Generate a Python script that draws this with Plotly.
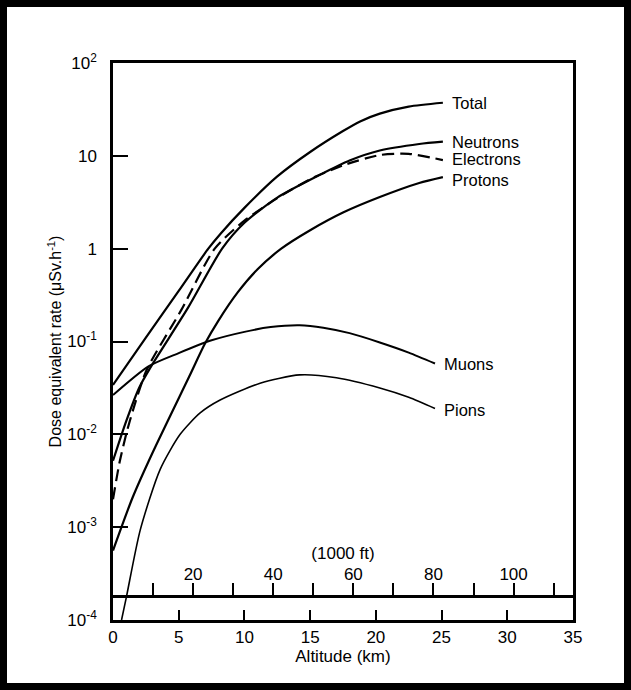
import math
import plotly.graph_objects as go

# ---------------- data ----------------
total_km = [0, 2.5, 5, 7.25, 8.2, 10, 12.5, 15, 17.5, 18.8, 20.3, 22.5, 25.1]
total_val = [0.034, 0.11, 0.35, 1.0, 1.46, 2.75, 6.0, 11.0, 18.5, 23.5, 28.5, 33.9, 37.3]

neutrons_km = [0, 1, 2, 2.9, 5.7, 8.3, 10, 12.5, 15.7, 18, 20.3, 23.3, 25.1]
neutrons_val = [0.0052, 0.0138, 0.032, 0.054, 0.23, 1.0, 1.9, 3.55, 6.2, 8.9, 11.4, 13.4, 14.2]

electrons_km = [0, 0.5, 1, 1.5, 2.55, 5.2, 7.74, 10, 12.5, 15, 17.5, 20.3, 22.5, 25.1]
electrons_val = [0.002, 0.005, 0.01, 0.0178, 0.049, 0.219, 1.0, 2.0, 3.5, 5.6, 7.9, 10.2, 10.5, 9.0]

protons_km = [0, 1.5, 3, 5.8, 7, 8, 9.5, 11, 12.8, 15, 17.5, 20.3, 23.3, 25.1]
protons_val = [0.00056, 0.0021, 0.0063, 0.042, 0.095, 0.166, 0.34, 0.60, 1.0, 1.58, 2.45, 3.6, 5.1, 5.9]

muons_km = [0, 2.7, 5, 7.5, 10, 12, 14.2, 16, 18, 20.3, 22.5, 24.5]
muons_val = [0.0265, 0.054, 0.075, 0.103, 0.127, 0.143, 0.1496, 0.141, 0.123, 0.0977, 0.076, 0.058]

pions_km = [0.65, 1.03, 2.07, 3.59, 5.11, 6.63, 8.15, 11.19, 14.2, 17, 20.3, 22.5, 24.5]
pions_val = [1.0e-4, 1.8e-4, 9.3e-4, 0.0042, 0.0100, 0.0170, 0.0234, 0.0355, 0.0437, 0.0407, 0.0316, 0.0251, 0.019]

km_ticks = [0, 5, 10, 15, 20, 25, 30, 35]
ft_ticks = [10, 20, 30, 40, 50, 60, 70, 80, 90, 100, 110]
ft_labels = ["", "20", "", "40", "", "60", "", "80", "", "100", ""]
y_ticks = [1e-4, 1e-3, 1e-2, 1e-1, 1, 10, 100]
y_labels = ["10<sup>-4</sup>", "10<sup>-3</sup>", "10<sup>-2</sup>", "10<sup>-1</sup>", "1", "10", "10<sup>2</sup>"]

# name, x, y, dash, width, label vertical nudge (px)
series = [
    ("Total", total_km, total_val, "solid", 2.2, 0),
    ("Neutrons", neutrons_km, neutrons_val, "solid", 2.2, 0),
    ("Electrons", electrons_km, electrons_val, "12px,6px", 2.2, 1),
    ("Protons", protons_km, protons_val, "solid", 2.2, -3),
    ("Muons", muons_km, muons_val, "solid", 2.0, -1),
    ("Pions", pions_km, pions_val, "solid", 1.6, -2),
]

FONT = "Liberation Sans, Arial, Helvetica, sans-serif"
W, H = 631, 690
L, R, T, B = 113, 58, 63, 70

fig = go.Figure()
annotations = []
for name, xs, ys, dash, w, nudge in series:
    fig.add_trace(go.Scatter(
        x=xs, y=ys, mode="lines", name=name, showlegend=False,
        line=dict(color="black", width=w, dash=dash, shape="spline", smoothing=0.7),
        hoverinfo="x+y+name",
    ))
    annotations.append(dict(
        x=xs[-1], y=math.log10(ys[-1]), xref="x", yref="y",
        text=name, showarrow=False, xanchor="left", yanchor="middle",
        xshift=7, yshift=nudge, font=dict(size=16.5, color="black", family=FONT),
    ))

# dummy trace to activate the feet axis
fig.add_trace(go.Scatter(x=[None], y=[None], xaxis="x2", yaxis="y",
                         showlegend=False, hoverinfo="skip"))

pw = W - L - R
ph = H - T - B
inset = 3.5
frame = dict(
    type="rect", xref="paper", yref="paper",
    x0=(inset - L) / pw, x1=(W - inset - L) / pw,
    y0=-(B - inset) / ph, y1=(ph + T - inset) / ph,
    line=dict(color="black", width=7), fillcolor="rgba(0,0,0,0)", layer="above",
)

fig.update_layout(
    width=W, height=H,
    margin=dict(l=L, r=R, t=T, b=B, autoexpand=False),
    paper_bgcolor="white", plot_bgcolor="white",
    font=dict(family=FONT, size=17, color="black"),
    annotations=annotations,
    shapes=[frame],
    xaxis=dict(
        range=[0, 35], tickvals=km_ticks, ticks="inside", ticklen=10, tickwidth=2,
        tickcolor="black", showline=True, linewidth=2.5, linecolor="black", mirror=True,
        showgrid=False, zeroline=False, tickfont=dict(size=17),
        ticklabelstandoff=0,
        title=dict(text="Altitude (km)", font=dict(size=17), standoff=0),
    ),
    xaxis2=dict(
        overlaying="x", anchor="free", position=24 / ph, side="top",
        range=[0, 35 / 0.3048], tickvals=ft_ticks, ticktext=ft_labels,
        ticks="outside", ticklen=12, tickwidth=2, tickcolor="black",
        showline=True, linewidth=2.5, linecolor="black", showgrid=False, zeroline=False,
        tickfont=dict(size=17), ticklabelstandoff=-4,
        title=dict(text="(1000 ft)", font=dict(size=17), standoff=0),
    ),
    yaxis=dict(
        type="log", range=[-4, 2], tickvals=y_ticks, ticktext=y_labels,
        ticks="inside", ticklen=15, tickwidth=2, tickcolor="black",
        showline=True, linewidth=2.5, linecolor="black", mirror=True,
        showgrid=False, zeroline=False, tickfont=dict(size=17),
        ticklabelstandoff=10,
        title=dict(text="Dose equivalent rate (μSv.h<sup>-1</sup>)", font=dict(size=16), standoff=2),
    ),
)

fig.write_html("out.html")
